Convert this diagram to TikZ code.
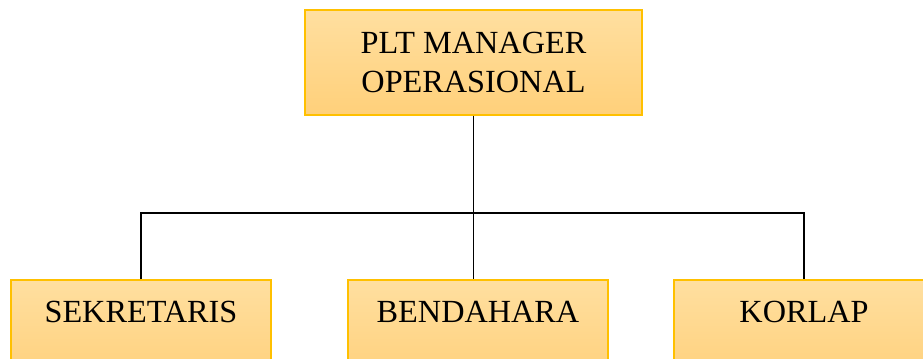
\documentclass[tikz,border=0pt]{standalone}
\usepackage{fontspec}
\setmainfont{Liberation Serif}
\definecolor{boxtop}{RGB}{255,223,160}
\definecolor{boxbottom}{RGB}{255,208,122}
\definecolor{boxline}{RGB}{255,192,0}
\tikzset{
  orgbox/.style={draw=boxline, line width=1pt, top color=boxtop, bottom color=boxbottom,
    minimum width=195pt, minimum height=78pt, inner sep=0pt,
    font=\fontsize{24.2pt}{29.25pt}\selectfont, align=center},
  lowbox/.style={orgbox, text height=15.5pt, text depth=29.5pt},
  link/.style={draw=black, line width=0.8pt}
}
\begin{document}
\begin{tikzpicture}[x=0.75pt,y=-0.75pt]
      \useasboundingbox (0,0) rectangle (923,359);
      \node[orgbox, minimum width=252.75pt, minimum height=78.75pt] (manager) at (473.5,62.5) {PLT MANAGER\\OPERASIONAL};
      \node[lowbox] (sekretaris) at (141,332) {SEKRETARIS};
      \node[lowbox] (bendahara) at (478,332) {BENDAHARA};
      \node[lowbox] (korlap) at (804,332) {KORLAP};
      \coordinate (bus) at (473.5,213);
      \draw[link] (manager.south) -- (manager.south |- bendahara.north);
      \draw[link] (sekretaris.north) |- (bus) -| (korlap.north);
    \end{tikzpicture}
\end{document}
